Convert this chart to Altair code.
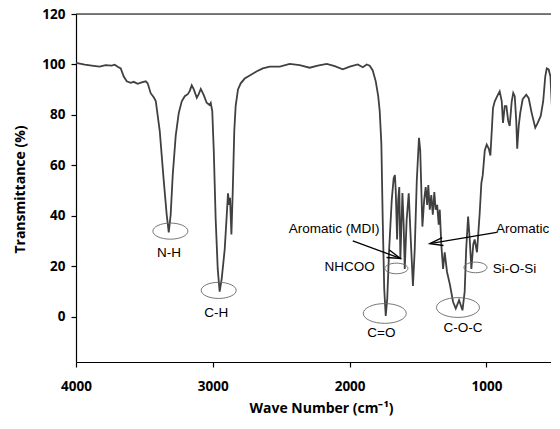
import altair as alt
import pandas as pd

# ---- spectrum ----
wavenumber = [4000, 3936, 3885, 3827, 3783, 3739, 3717, 3695, 3673, 3651, 3629, 3600, 3578, 3549,
              3520, 3490, 3476, 3454, 3432, 3417, 3388, 3359, 3337, 3322, 3308, 3293, 3271, 3249,
              3227, 3205, 3183, 3169, 3154, 3139, 3117, 3103, 3088, 3066, 3045, 3023, 3015, 3004,
              2993, 2979, 2964, 2950, 2935, 2913, 2898, 2889, 2880, 2874, 2864, 2854, 2843, 2833,
              2816, 2796, 2767, 2730, 2681, 2635, 2584, 2510, 2438, 2365, 2292, 2233, 2167, 2109,
              2050, 1999, 1941, 1904, 1875, 1853, 1831, 1809, 1791, 1780, 1768, 1758, 1747, 1736,
              1725, 1711, 1692, 1678, 1669, 1663, 1653, 1645, 1637, 1629, 1614, 1605, 1597, 1583,
              1568, 1553, 1537, 1524, 1509, 1493, 1484, 1468, 1455, 1444, 1433, 1425, 1414, 1403,
              1392, 1381, 1371, 1360, 1349, 1341, 1330, 1317, 1305, 1288, 1268, 1244, 1224, 1200,
              1175, 1159, 1148, 1134, 1122, 1110, 1096, 1086, 1069, 1049, 1037, 1027, 1012, 998,
              983, 971, 961, 952, 939, 921, 903, 888, 879, 866, 854, 841, 830, 815, 804, 793, 782,
              775, 764, 753, 735, 709, 691, 669, 643, 625, 603, 585, 570, 559, 545, 532, 519, 508,
              497, 479, 465]
transmittance = [100.6, 99.9, 99.5, 99.1, 99.7, 99.5, 99.9, 99.1, 98.4, 95.2, 93.3, 92.7, 93.1, 92.3,
                 92.9, 93.3, 92.5, 88.6, 87.0, 85.5, 73.7, 54.1, 40.4, 33.4, 40.4, 56.1, 71.8, 80.7,
                 85.4, 87.4, 88.2, 89.4, 91.7, 90.1, 86.8, 88.2, 90.3, 87.8, 84.8, 83.9, 84.7, 81.5,
                 65.9, 38.5, 18.9, 9.9, 15.0, 26.7, 40.4, 48.9, 44.3, 47.1, 32.6, 50.2, 73.7, 83.5,
                 90.1, 92.5, 94.4, 95.6, 97.2, 98.4, 99.1, 99.1, 100.2, 99.7, 98.7, 99.5, 100.2, 99.3,
                 98.1, 99.1, 100.0, 98.9, 100.0, 99.5, 97.6, 93.3, 87.4, 81.5, 68.6, 38.4, 11.0, 0.3,
                 7.1, 26.7, 46.3, 54.9, 56.1, 50.2, 30.6, 46.3, 51.4, 22.8, 49.0, 36.5, 18.9, 38.4,
                 48.9, 30.6, 12.2, 26.7, 54.1, 70.9, 65.9, 35.7, 46.3, 51.4, 44.3, 52.2, 42.4, 48.2,
                 40.4, 49.4, 42.4, 44.3, 36.5, 42.4, 28.7, 18.9, 25.5, 17.7, 13.0, 5.9, 3.2, 6.5,
                 2.5, 9.9, 26.7, 39.7, 30.6, 18.9, 28.7, 30.6, 25.5, 41.2, 52.9, 56.1, 65.9, 68.2,
                 66.6, 63.9, 73.7, 82.7, 85.4, 87.4, 89.3, 85.4, 76.8, 83.5, 83.5, 77.6, 75.6, 85.4,
                 88.7, 87.4, 77.6, 66.6, 75.6, 80.7, 86.2, 88.0, 86.6, 80.7, 74.9, 76.8, 79.6, 85.4,
                 95.2, 98.4, 98.0, 95.2, 80.7, 89.3, 96.4, 98.7, 100.4]

# ---- annotations ----
label_text = ["N-H", "C-H", "C=O", "C-O-C", "NHCOO", "Si-O-Si", "Aromatic (MDI)", "Aromatic"]
label_wn = [3320, 2974, 1768, 1171, 1816, 954, 2445, 540]
label_t = [25.4, 1.25, -6.5, -4.6, 19.5, 18.9, 34.8, 34.7]
label_align = ["center", "center", "center", "center", "right", "left", "left", "right"]

ellipse_wn = [3310, 2957, 1743, 1208, 1658, 1080]
ellipse_t = [33.9, 10.4, 1.25, 3.6, 19.1, 19.5]
ellipse_width_px = [35, 35, 43, 43, 23, 23]

arrow_wn_start = [1977, 925]
arrow_t_start = [30.0, 33.4]
arrow_wn_end = [1629, 1414]
arrow_t_end = [23.1, 28.9]
arrow_angle = [20.3, 170.6]

x_ticks = [4000, 3000, 2000, 1000]
y_ticks = [0, 20, 40, 60, 80, 100, 120]

spec = pd.DataFrame({"wn": wavenumber, "t": transmittance})
labels = pd.DataFrame({"text": label_text, "wn": label_wn, "t": label_t, "align": label_align})
ellipses = pd.DataFrame({"wn": ellipse_wn, "t": ellipse_t,
                         "s": [w * w for w in ellipse_width_px]})
arrows = pd.DataFrame({"wn": arrow_wn_start, "t": arrow_t_start,
                       "wn2": arrow_wn_end, "t2": arrow_t_end, "ang": arrow_angle})

W, H = 475, 348
xscale = alt.Scale(domain=[528, 4000], reverse=True, nice=False, zero=False)
yscale = alt.Scale(domain=[-18, 120], nice=False, zero=False)

axis_common = dict(
    labelFont="Open Sans", labelFontWeight="bold", labelFontSize=13.5, labelColor="black",
    titleFont="Open Sans", titleFontWeight="bold", titleFontSize=14, titleColor="black",
    domainColor="black", domainWidth=1.2, tickColor="black", tickWidth=1.2, tickSize=5,
    grid=False, labelFlush=False, labelOverlap=False,
)

xaxis = alt.Axis(values=x_ticks, format="d", labelPadding=12,
                 title="Wave Number (cm\u207b\u00b9)", titleX=245, titleY=50,
                 titleAlign="center", titleBaseline="alphabetic", **axis_common)
yaxis = alt.Axis(values=y_ticks, format="d", labelPadding=6,
                 title="Transmittance (%)", titleX=-56, titleY=175, titleAngle=270,
                 titleAlign="center", titleBaseline="middle", **axis_common)

line = alt.Chart(spec).mark_line(color="#404040", strokeWidth=1.8, clip=True).encode(
    x=alt.X("wn:Q", scale=xscale, axis=xaxis),
    y=alt.Y("t:Q", scale=yscale, axis=yaxis),
)

top_border = alt.Chart(pd.DataFrame({"t": [120]})).mark_rule(color="black", strokeWidth=1.2).encode(
    y=alt.Y("t:Q", scale=yscale)
)

ellipse_path = ("M-1,0C-1,-0.254,-0.552,-0.46,0,-0.46C0.552,-0.46,1,-0.254,1,0"
                "C1,0.254,0.552,0.46,0,0.46C-0.552,0.46,-1,0.254,-1,0Z")
ell = alt.Chart(ellipses).mark_point(shape=ellipse_path, filled=False, color="#666666",
                                     strokeWidth=0.9, opacity=1).encode(
    x=alt.X("wn:Q", scale=xscale),
    y=alt.Y("t:Q", scale=yscale),
    size=alt.Size("s:Q", scale=None),
)

arrow_lines = alt.Chart(arrows).mark_rule(color="black", strokeWidth=1.3).encode(
    x=alt.X("wn:Q", scale=xscale), x2="wn2:Q",
    y=alt.Y("t:Q", scale=yscale), y2="t2:Q",
)
arrow_heads = alt.Chart(arrows).mark_point(shape="M-1,-0.3L0,0L-1,0.3", filled=False,
                                           color="black", strokeWidth=1.3, opacity=1,
                                           size=700).encode(
    x=alt.X("wn2:Q", scale=xscale),
    y=alt.Y("t2:Q", scale=yscale),
    angle=alt.Angle("ang:Q", scale=None),
)

text_layers = []
for al in ["center", "right", "left"]:
    text_layers.append(
        alt.Chart(labels[labels["align"] == al]).mark_text(
            font="Liberation Sans", fontSize=13.5, color="black", align=al, baseline="middle"
        ).encode(
            x=alt.X("wn:Q", scale=xscale),
            y=alt.Y("t:Q", scale=yscale),
            text="text:N",
        )
    )

chart = alt.layer(line, top_border, ell, arrow_lines, arrow_heads, *text_layers).properties(
    width=W, height=H,
    autosize=alt.AutoSizeParams(type="none"),
    padding={"left": 68, "top": 6, "right": 0, "bottom": 54},
).configure_view(stroke=None).configure(background="white")

chart.save("out.html", embed_options={"renderer": "svg", "actions": False})
